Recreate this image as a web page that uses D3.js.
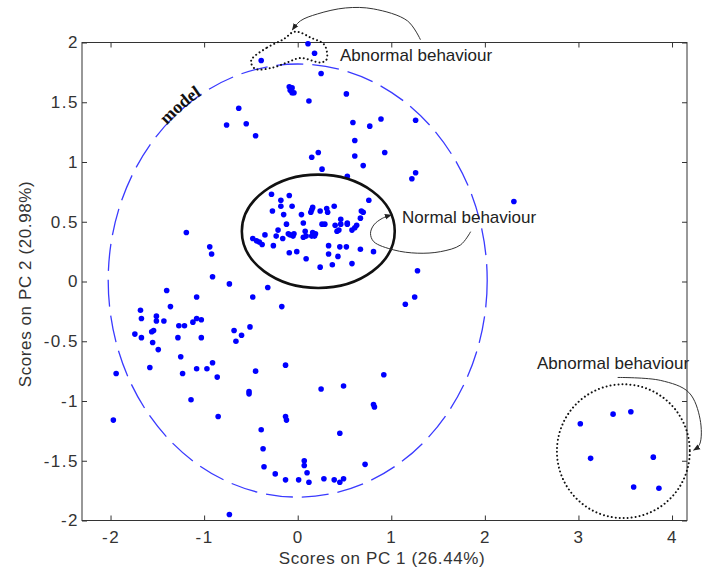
<!DOCTYPE html>
<html>
<head>
<meta charset="utf-8">
<script src="https://cdn.jsdelivr.net/npm/d3@7"></script>
<style>
  body { margin: 0; background: #fff; }
  text { font-family: "Liberation Sans", Arial, sans-serif; }
</style>
</head>
<body>
<div class="svg-container"></div>
<script>
// scores on PC1 / PC2
var normalScores = [
  [-0.28,0.73],[-0.18,0.68],[-0.09,0.72],[-0.18,0.63],[-0.06,0.63],[-0.27,0.59],[-0.15,0.56],
  [0.04,0.56],[0.14,0.58],[0.16,0.62],[0.15,0.60],[0.24,0.59],[0.31,0.61],[0.32,0.58],[0.39,0.63],
  [0.76,0.68],[0.68,0.59],[0.70,0.58],[0.67,0.53],[0.46,0.52],[-0.12,0.48],[0.06,0.49],[0.26,0.48],
  [0.29,0.48],[0.40,0.47],[0.46,0.48],[0.53,0.48],[0.63,0.47],[0.61,0.45],[0.58,0.43],[0.42,0.42],
  [0.44,0.43],[-0.21,0.43],[-0.35,0.39],[-0.23,0.38],[-0.10,0.40],[-0.08,0.39],[-0.05,0.38],
  [-0.04,0.40],[-0.16,0.36],[0.08,0.42],[0.06,0.37],[0.09,0.38],[0.16,0.41],[0.19,0.40],[0.18,0.38],
  [0.15,0.38],[-0.48,0.36],[-0.44,0.34],[-0.41,0.33],[-0.38,0.31],[-0.26,0.30],[-0.09,0.24],
  [-0.01,0.25],[0.09,0.19],[0.24,0.12],[0.33,0.30],[0.33,0.23],[0.45,0.29],[0.52,0.29],[0.43,0.21],
  [0.37,0.14],[0.58,0.15],[0.67,0.27],[0.81,0.25],[0.53,0.49]
];

var modelScores = [
  [0.25,1.74],[-0.09,1.63],[-0.06,1.62],[-0.08,1.60],[-0.04,1.58],[-0.06,1.58],[0.12,1.51],[0.52,1.57],
  [-0.63,1.45],[-0.76,1.31],[-0.55,1.32],[-0.45,1.22],[0.15,1.04],[0.22,1.08],[0.26,0.94],[0.53,0.88],
  [0.59,1.33],[0.77,1.30],[0.89,1.36],[1.26,1.35],[0.61,1.18],[0.93,1.08],[0.61,1.05],[0.70,0.97],
  [1.26,0.91],[1.22,0.86],[2.31,0.67],
  [-1.19,0.41],[-0.94,0.29],[-0.92,0.23],[-0.91,0.04],[-1.40,-0.075],[-1.68,-0.24],[-1.67,-0.31],
  [-1.51,-0.29],[-1.51,-0.33],[-1.43,-0.33],[-1.36,-0.21],[-1.08,-0.13],[-1.27,-0.37],[-1.21,-0.37],
  [-1.12,-0.34],[-1.08,-0.31],[-1.03,-0.32],[-1.74,-0.44],[-1.67,-0.47],[-1.56,-0.42],[-1.54,-0.41],
  [-1.55,-0.51],[-1.49,-0.57],[-1.28,-0.47],[-1.25,-0.63],[-1.03,-0.47],[-1.58,-0.72],[-1.23,-0.77],
  [-1.08,-0.73],[-0.97,-0.73],[-0.91,-0.68],[-0.86,-0.80],[-1.94,-0.77],[-1.97,-1.16],[-1.14,-0.99],
  [-0.85,-1.13],[-0.73,-0.02],[-0.48,-0.13],[-0.32,-0.05],[-0.17,-0.21],[-0.68,-0.41],[-0.60,-0.45],
  [-0.66,-0.50],[-0.51,-0.38],[-0.13,-0.70],[-0.45,-0.75],[-0.52,-0.92],[-0.52,-0.94],[-0.13,-1.13],
  [-0.12,-1.16],[-0.39,-1.24],[-0.37,-1.40],[-0.36,-1.55],[-0.24,-1.61],[-0.13,-1.66],[-0.73,-1.95],
  [0.01,-1.66],[0.07,-1.50],[0.07,-1.54],[0.10,-1.60],[0.12,-1.68],[0.28,-1.65],[0.39,-1.66],
  [0.45,-1.68],[0.49,-1.65],[0.25,-0.90],[0.49,-0.875],[0.45,-1.27],[0.72,-1.53],[0.92,-0.78],
  [0.81,-1.03],[0.82,-1.05],[1.28,0.09],[1.25,-0.13],[1.15,-0.19]
];

var abnormalTop = [[-0.39,1.85],[0.11,1.99],[0.18,1.91]];
var abnormalRight = [[3.02,-1.19],[3.37,-1.11],[3.56,-1.09],[3.13,-1.48],[3.80,-1.47],[3.59,-1.72],[3.86,-1.73]];

var xTicks = [-2, -1, 0, 1, 2, 3, 4];
var yTicks = [-2, -1.5, -1, -0.5, 0, 0.5, 1, 1.5, 2];

// ellipses: [cx, cy, rx, ry] in score units
var modelLimit = [0, 0.008, 2.025, 1.812];
var normalRegion = [0.22, 0.42, 0.817, 0.474];
var rightRegion = [3.48, -1.42, 0.71, 0.56];
var topBlob = [[-0.488,1.864],[-0.327,1.958],[-0.150,2.028],[-0.043,2.089],[0.029,2.083],[0.136,2.042],
  [0.278,1.987],[0.312,1.923],[0.307,1.856],[0.243,1.833],[0.029,1.870],[-0.113,1.833],[-0.257,1.792],
  [-0.452,1.778],[-0.498,1.831]];

// annotation arrows
var arrowTop = [[1.312,2.023],[1.173,2.181],[0.810,2.281],[0.510,2.289],[0.211,2.239],[0.029,2.181],[-0.057,2.106]];
var arrowNormal = [[1.848,0.417],[1.740,0.306],[1.527,0.250],[1.277,0.237],[1.027,0.264],[0.813,0.333],
  [0.778,0.403],[0.813,0.473],[0.903,0.528],[0.999,0.556]];
var arrowRight = [[3.419,-0.803],[3.879,-0.828],[4.179,-0.928],[4.30,-1.153],[4.296,-1.361],[4.231,-1.411]];

var W = 702, H = 574;
var svg = d3.select(".svg-container").append("svg").attr("width", W).attr("height", H);

var x = d3.scaleLinear().domain([-2.305, 4.16]).range([82, 687]);
var y = d3.scaleLinear().domain([-2, 2]).range([520.5, 42.5]);

var ink = "#333";
var fmt = function(d) { return String(d); };

var styleAxis = function(g, labels) {
  g.select(".domain").remove();
  g.selectAll(".tick line").attr("stroke", ink);
  g.selectAll(".tick text").attr("fill", ink).attr("font-size", 17)
    .style("letter-spacing", "1.5px");
  if(!labels) g.selectAll(".tick text").remove();
};

svg.append("g").attr("transform", "translate(0," + y(-2) + ")")
  .call(d3.axisBottom(x).tickValues(xTicks).tickSize(-5).tickPadding(10).tickFormat(fmt))
  .call(styleAxis, true);
svg.append("g").attr("transform", "translate(0," + y(2) + ")")
  .call(d3.axisTop(x).tickValues(xTicks).tickSize(-5))
  .call(styleAxis, false);
svg.append("g").attr("transform", "translate(" + x.range()[0] + ",0)")
  .call(d3.axisLeft(y).tickValues(yTicks).tickSize(-5).tickPadding(3).tickFormat(fmt))
  .call(styleAxis, true);
svg.append("g").attr("transform", "translate(" + x.range()[1] + ",0)")
  .call(d3.axisRight(y).tickValues(yTicks).tickSize(-5))
  .call(styleAxis, false);

svg.append("rect")
  .attr("x", x.range()[0]).attr("y", y(2))
  .attr("width", x.range()[1] - x.range()[0]).attr("height", y(-2) - y(2))
  .attr("fill", "none").attr("stroke", ink).attr("stroke-width", 1);

var ellipse = function(e) {
  return svg.append("ellipse")
    .attr("cx", x(e[0])).attr("cy", y(e[1]))
    .attr("rx", x(e[2]) - x(0)).attr("ry", y(0) - y(e[3]))
    .attr("fill", "none");
};

ellipse(modelLimit).attr("stroke", "#3a3aff").attr("stroke-width", 1.3)
  .attr("stroke-dasharray", "27 9");

// "model" label along the limit
var arcPts = d3.range(134, 94, -1).map(function(t) {
  var a = t * Math.PI / 180;
  return [x(modelLimit[0] + modelLimit[2] * Math.cos(a)), y(modelLimit[1] + modelLimit[3] * Math.sin(a))];
});
svg.append("defs").append("path").attr("id", "modelArc").attr("d", d3.line()(arcPts));
svg.append("text").attr("font-size", 18).attr("font-weight", "bold").attr("dy", 1)
  .style("font-family", "'Liberation Serif', 'Times New Roman', serif").attr("fill", "#111")
  .append("textPath").attr("href", "#modelArc").text("model");

var allPts = modelScores.concat(normalScores, abnormalTop, abnormalRight);
svg.append("g").selectAll("circle").data(allPts).enter().append("circle")
  .attr("cx", function(d) { return x(d[0]); })
  .attr("cy", function(d) { return y(d[1]); })
  .attr("r", 2.8).attr("fill", "#0000ff");

ellipse(normalRegion).attr("stroke", "#111").attr("stroke-width", 2.6);

ellipse(rightRegion).attr("stroke", "#111").attr("stroke-width", 2)
  .attr("stroke-linecap", "round").attr("stroke-dasharray", "0.01 4");

var toPx = function(d) { return [x(d[0]), y(d[1])]; };

svg.append("path").attr("d", d3.line().curve(d3.curveCatmullRomClosed)(topBlob.map(toPx)))
  .attr("fill", "none").attr("stroke", "#111").attr("stroke-width", 2)
  .attr("stroke-linecap", "round").attr("stroke-dasharray", "0.01 4");

svg.select("defs").append("marker").attr("id", "arr")
  .attr("viewBox", "0 0 10 10").attr("refX", 9).attr("refY", 5)
  .attr("markerWidth", 7).attr("markerHeight", 7).attr("markerUnits", "userSpaceOnUse")
  .attr("orient", "auto")
  .append("path").attr("d", "M0,1 L10,5 L0,9 Z").attr("fill", "#222");

[arrowTop, arrowNormal, arrowRight].forEach(function(a) {
  svg.append("path").attr("d", d3.line().curve(d3.curveCatmullRom)(a.map(toPx)))
    .attr("fill", "none").attr("stroke", "#333").attr("stroke-width", 1)
    .attr("marker-end", "url(#arr)");
});

var note = function(px, py, s) {
  svg.append("text").attr("x", px).attr("y", py).attr("font-size", 17)
    .attr("fill", "#222").text(s);
};
note(340, 61, "Abnormal behaviour");
note(402, 223, "Normal behaviour");
note(537, 369, "Abnormal behaviour");

svg.append("text").attr("x", 382).attr("y", 564).attr("text-anchor", "middle")
  .attr("font-size", 17).attr("fill", ink).style("letter-spacing", "0.6px")
  .text("Scores on PC 1 (26.44%)");
svg.append("text").attr("transform", "translate(31,284) rotate(-90)").attr("text-anchor", "middle")
  .attr("font-size", 17).attr("fill", ink).style("letter-spacing", "0.6px")
  .text("Scores on PC 2 (20.98%)");
</script>
</body>
</html>
